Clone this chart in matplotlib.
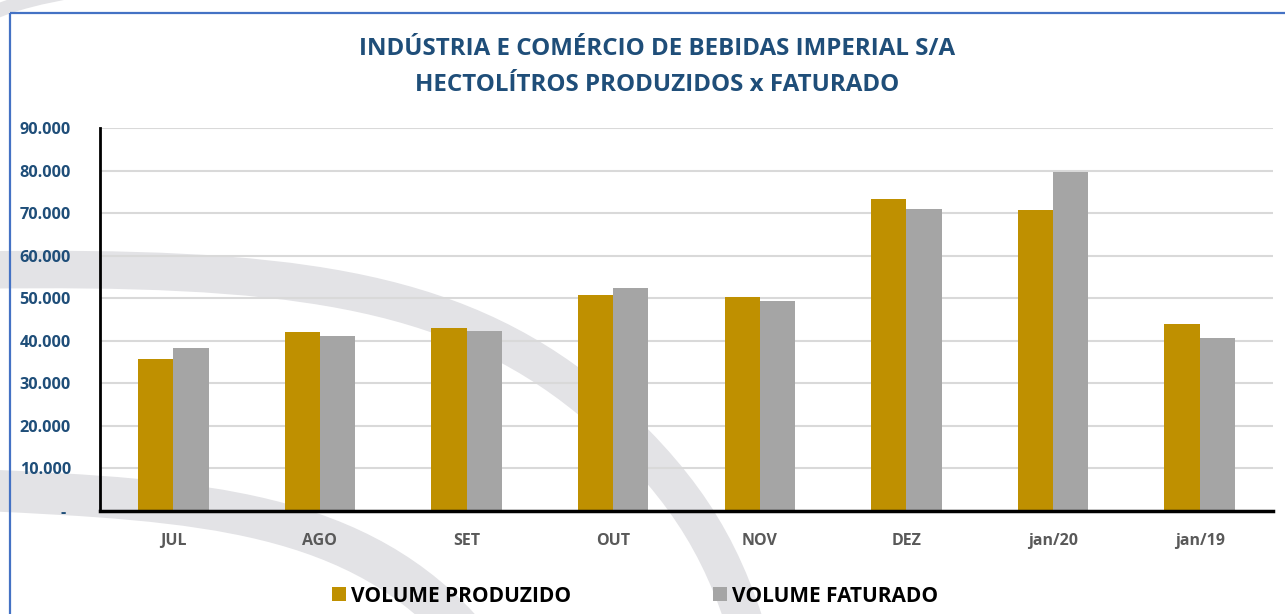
import matplotlib
matplotlib.use("Agg")
import matplotlib.pyplot as plt
from matplotlib.path import Path
from matplotlib.patches import PathPatch, Rectangle
from matplotlib.ticker import FuncFormatter
import numpy as np

plt.rcParams['font.family'] = ['Open Sans', 'DejaVu Sans']

# data
meses = ['JUL', 'AGO', 'SET', 'OUT', 'NOV', 'DEZ', 'jan/20', 'jan/19']
volume_produzido = [35600, 42100, 43000, 50700, 50300, 73400, 70700, 44000]
volume_faturado = [38200, 41200, 42200, 52500, 49300, 70900, 79700, 40600]
yticks = np.arange(0, 90001, 10000)

titulo = 'INDÚSTRIA E COMÉRCIO DE BEBIDAS IMPERIAL S/A\nHECTOLÍTROS PRODUZIDOS x FATURADO'

COR_PROD = '#BF9000'
COR_FAT = '#A5A5A5'
AZUL = '#1F4E79'

W, H = 1285, 614
fig = plt.figure(figsize=(W / 100, H / 100), dpi=100)
fig.patch.set_facecolor('white')

# background layer in pixel coordinates (watermark swooshes + frame)
bg = fig.add_axes([0, 0, 1, 1], zorder=0)
bg.set_xlim(0, W)
bg.set_ylim(H, 0)
bg.axis('off')

def swoosh(pts, lw):
    verts = [pts[0]]
    codes = [Path.MOVETO]
    for i in range(1, len(pts), 3):
        verts += pts[i:i + 3]
        codes += [Path.CURVE4] * 3
    bg.add_patch(PathPatch(Path(verts, codes), fill=False, edgecolor='#E3E3E6',
                           lw=lw, capstyle='butt'))

swoosh([(-20, 270), (280, 266), (450, 285), (590, 400),
        (680, 480), (720, 540), (750, 640)], 27)
swoosh([(-20, 490), (200, 500), (360, 510), (470, 640)], 30)
swoosh([(-10, 14), (15, 3), (40, -3), (80, -10)], 10)

bg.add_patch(Rectangle((10, 13), W, H, fill=False, edgecolor='#4472C4', lw=1.6))

# main chart
ax = fig.add_axes([100 / W, (H - 510.7) / H, (1273 - 100) / W, (510.7 - 128.3) / H],
                  zorder=1)
ax.patch.set_alpha(0)

x = np.arange(len(meses))
bw = 0.24
b1 = ax.bar(x - bw / 2, volume_produzido, bw, color=COR_PROD, label='VOLUME PRODUZIDO',
            zorder=3)
b2 = ax.bar(x + bw / 2, volume_faturado, bw, color=COR_FAT, label='VOLUME FATURADO',
            zorder=3)

ax.set_xlim(-0.5, len(meses) - 0.5)
ax.set_ylim(0, 90000)
ax.set_yticks(yticks)
ax.yaxis.set_major_formatter(FuncFormatter(
    lambda v, p: '- ' if v == 0 else f'{int(v):,}'.replace(',', '.')))
ax.set_xticks(x)
ax.set_xticklabels(meses)

ax.grid(axis='y', color='#D9D9D9', lw=1.5, zorder=1)
ax.set_axisbelow(True)
for s in ['top', 'right']:
    ax.spines[s].set_visible(False)
ax.spines['left'].set_linewidth(2)
ax.spines['bottom'].set_linewidth(2.5)
ax.spines['left'].set_zorder(4)
ax.spines['bottom'].set_zorder(4)

ax.tick_params(axis='both', length=0)
ax.tick_params(axis='y', pad=21, labelsize=11.7, labelcolor=AZUL)
ax.tick_params(axis='x', pad=16, labelsize=11.5, labelcolor='#595959')
for t in ax.get_yticklabels() + ax.get_xticklabels():
    t.set_fontweight('bold')

fig.text(657 / W, 1 - 67 / H, titulo, ha='center', va='center', fontsize=17.4,
         fontweight='bold', color=AZUL, linespacing=1.68)

leg = fig.legend(handles=[b1, b2], loc='center', bbox_to_anchor=(635 / W, 18 / H),
                 ncol=2, frameon=False, handlelength=0.67, handleheight=0.67,
                 handletextpad=0.25, columnspacing=6.8,
                 prop={'weight': 'bold', 'size': 15})
for t in leg.get_texts():
    t.set_color('black')

fig.savefig('out.png', dpi=100, facecolor='white')
